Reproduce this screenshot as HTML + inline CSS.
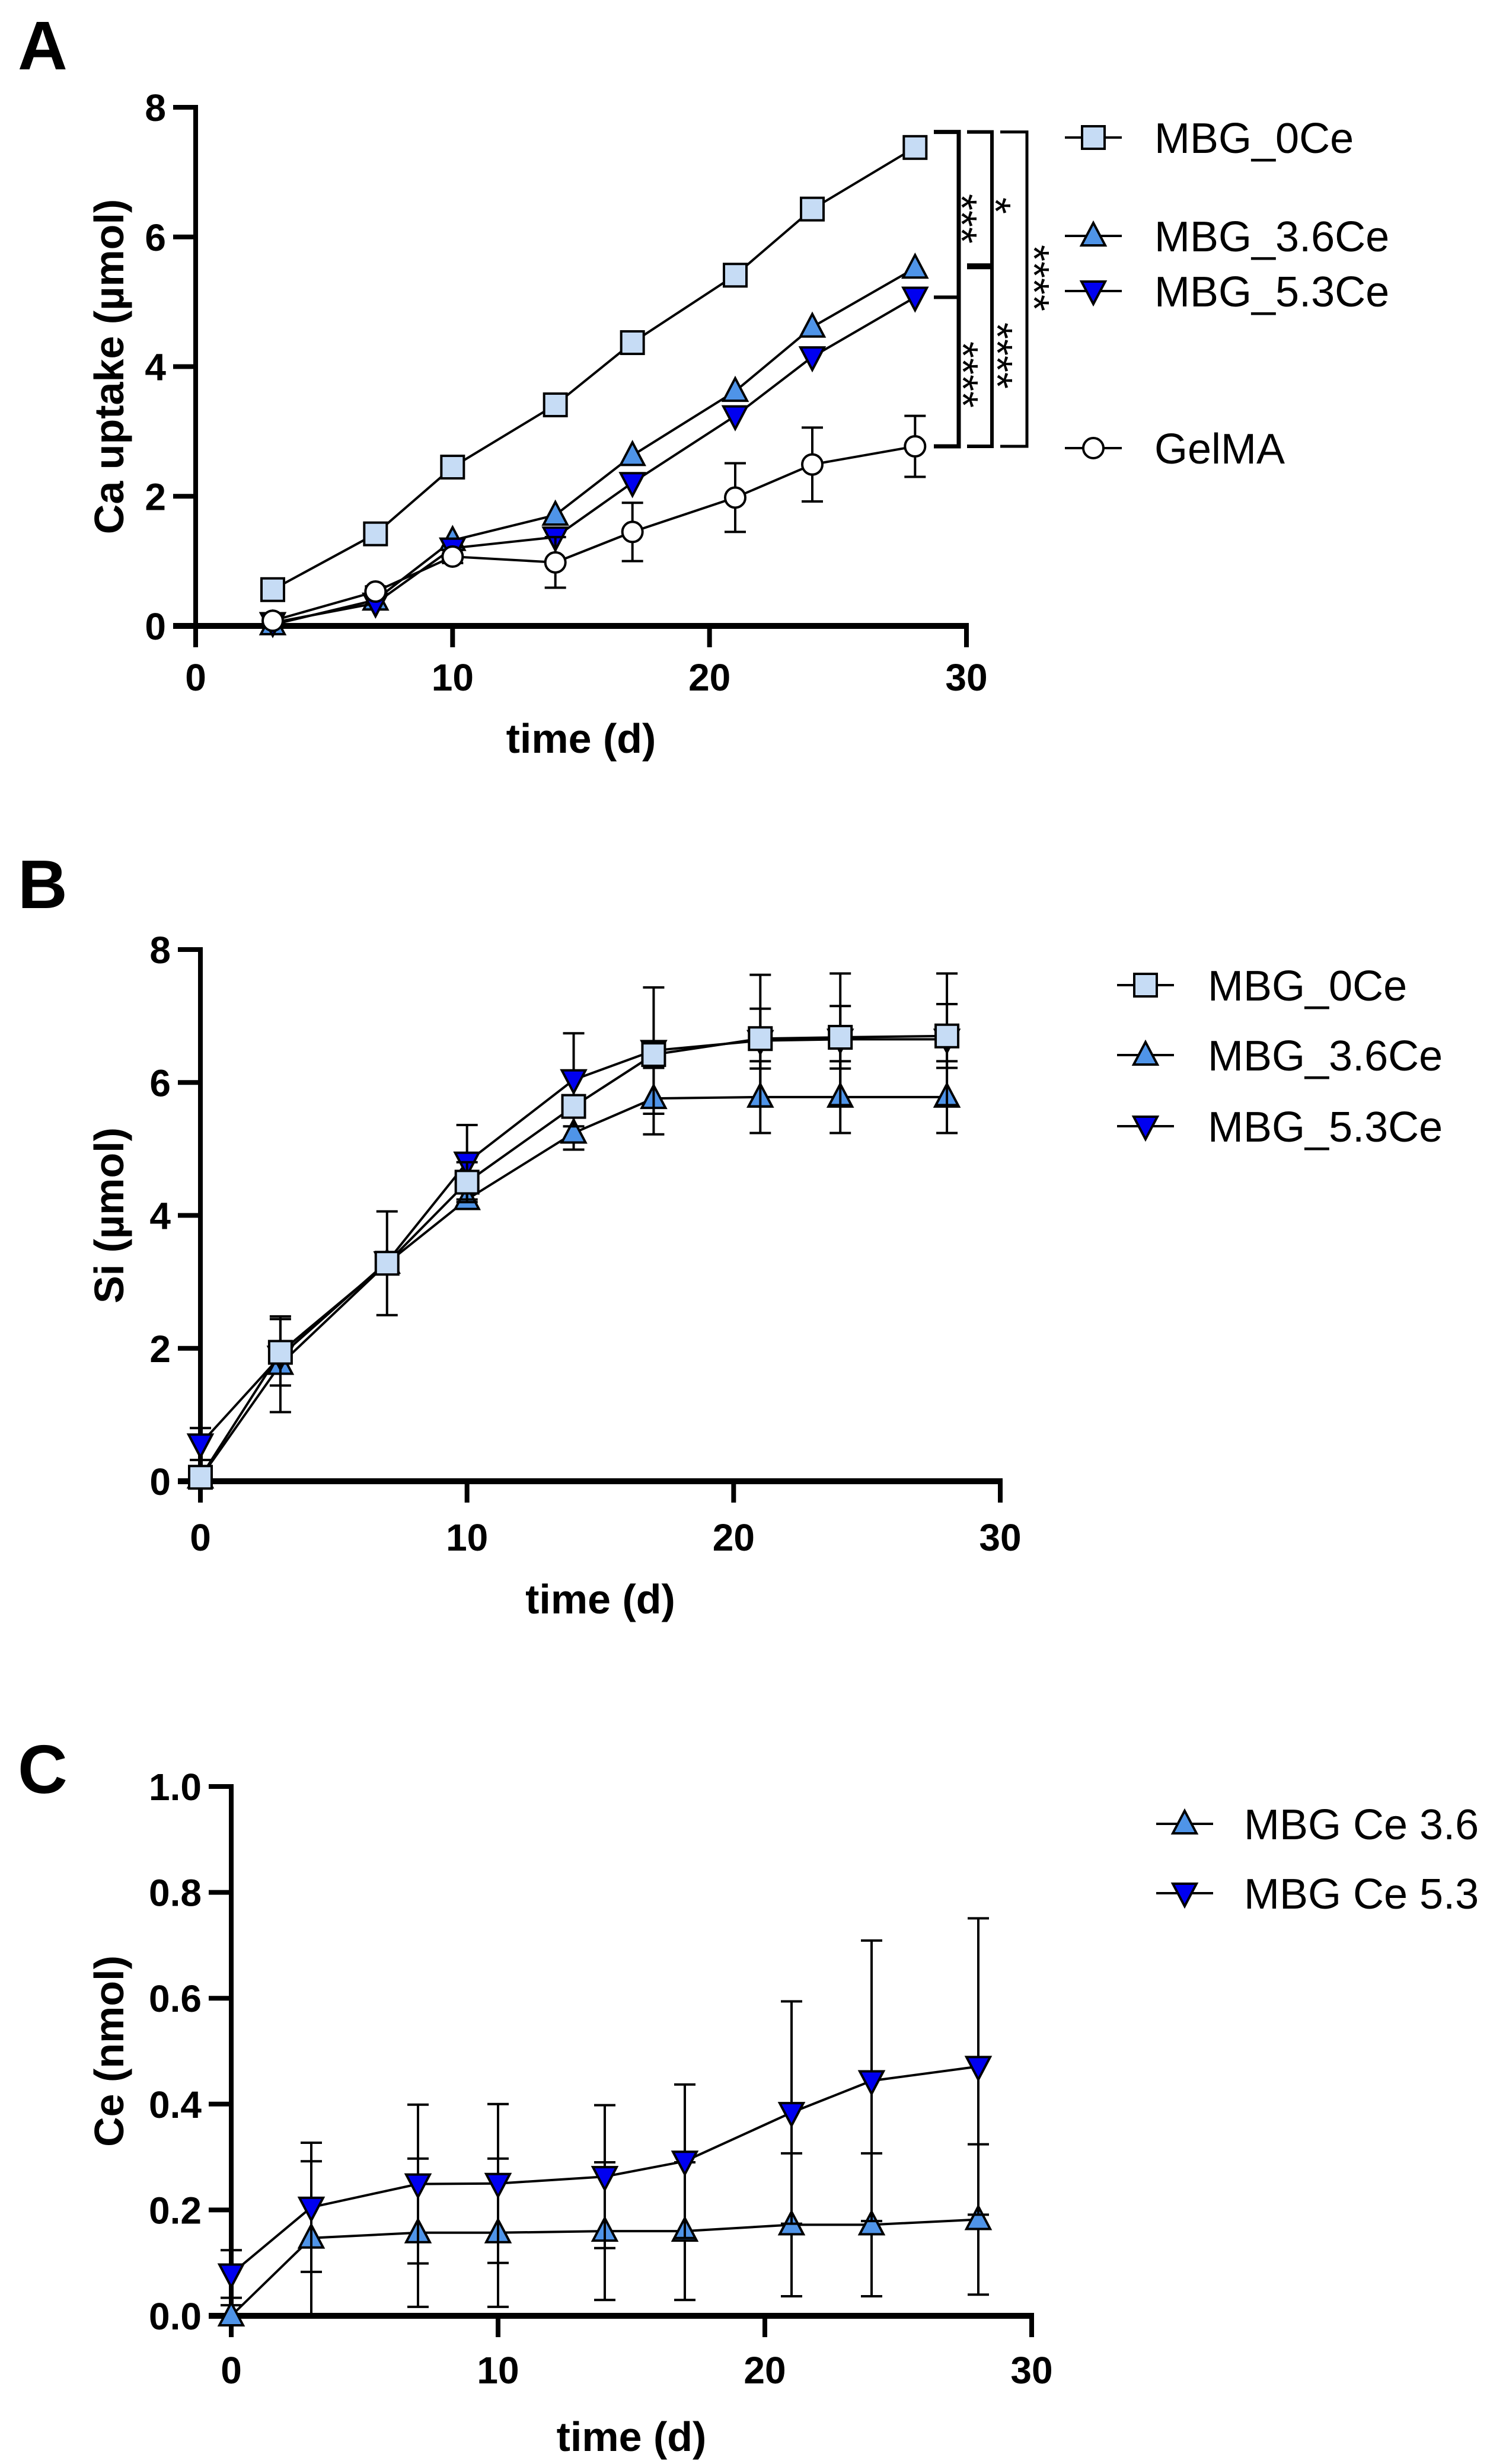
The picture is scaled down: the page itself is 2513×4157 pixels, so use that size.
<!DOCTYPE html>
<html><head><meta charset="utf-8">
<style>
html,body{margin:0;padding:0;background:#fff;}
svg{display:block;}
text{font-family:"Liberation Sans",Arial,sans-serif;fill:#000;}
.tk{font-weight:bold;font-size:64px;}
.ttl{font-weight:bold;font-size:70px;}
.lg{font-size:72px;}
.pl{font-weight:bold;font-size:116px;}
.st{font-size:72px;}
</style></head>
<body>
<svg id="fig" width="2513" height="4157" viewBox="0 0 2513 4157" xmlns="http://www.w3.org/2000/svg">
<text class="pl" x="30" y="117">A</text>
<text class="pl" x="30" y="1532">B</text>
<text class="pl" x="30" y="3025">C</text>
</svg>
<script>
// ---- Panel A data (Ca uptake, µmol) ----
const daysA = [3, 7, 10, 14, 17, 21, 24, 28];
const caMBG0 = [0.56, 1.42, 2.45, 3.41, 4.37, 5.41, 6.43, 7.38];
const caMBG36 = [0.02, 0.40, 1.32, 1.71, 2.63, 3.62, 4.61, 5.52];
const caMBG53 = [0.05, 0.35, 1.20, 1.37, 2.21, 3.24, 4.15, 5.07];
const caGelMA = [0.08, 0.53, 1.07, 0.98, 1.45, 1.98, 2.49, 2.77];
const caGelMAsd = [0.05, 0.08, 0.1, 0.39, 0.45, 0.53, 0.57, 0.47];
const ticksA = [0, 2, 4, 6, 8];
// ---- Panel B data (Si, µmol) ----
const daysB = [0, 3, 7, 10, 14, 17, 21, 24, 28];
const siMBG0 = [0.06, 1.94, 3.28, 4.50, 5.64, 6.42, 6.66, 6.68, 6.70];
const siMBG0sd = [0.0, 0.5, 0.78, 0.3, 0.15, 0.2, 0.45, 0.47, 0.48];
const siMBG36 = [0.05, 1.76, 3.28, 4.24, 5.24, 5.76, 5.78, 5.78, 5.78];
const siMBG36sd = [0.0, 0.72, 0.1, 0.1, 0.25, 0.54, 0.54, 0.54, 0.54];
const siMBG53 = [0.56, 1.88, 3.30, 4.80, 6.04, 6.48, 6.63, 6.65, 6.65];
const siMBG53sd = [0.24, 0.1, 0.1, 0.56, 0.70, 0.95, 0.99, 0.99, 0.99];
const ticksB = [0, 2, 4, 6, 8];
// ---- Panel C data (Ce, nmol) ----
const daysC = [0, 3, 7, 10, 14, 17, 21, 24, 28];
const ceMBG36 = [0.0, 0.147, 0.157, 0.157, 0.160, 0.160, 0.172, 0.172, 0.182];
const ceMBG36sd = [0.02, 0.145, 0.14, 0.14, 0.13, 0.13, 0.135, 0.135, 0.142];
const ceMBG53 = [0.079, 0.205, 0.249, 0.250, 0.263, 0.292, 0.384, 0.444, 0.471];
const ceMBG53sd = [0.045, 0.122, 0.150, 0.150, 0.135, 0.145, 0.21, 0.265, 0.28];
const ticksC = [0.0, 0.2, 0.4, 0.6, 0.8, 1.0];
const ticksX = [0, 10, 20, 30];

const NS = "http://www.w3.org/2000/svg";
const svg = document.getElementById('fig');
const COL = {sq:'#c6dcf5', up:'#4f94e8', dn:'#0000f0', ci:'#ffffff'};

function mk(tag, attrs, parent){
  const e = document.createElementNS(NS, tag);
  for (const k in attrs) e.setAttribute(k, attrs[k]);
  (parent||svg).appendChild(e);
  return e;
}
function marker(g, kind, cx, cy){
  let e;
  if (kind==='sq') e = mk('rect',{x:cx-19,y:cy-19,width:38,height:38,fill:COL.sq,stroke:'#000','stroke-width':4},g);
  else if (kind==='up') e = mk('polygon',{points:`${cx},${cy-22} ${cx+20},${cy+16} ${cx-20},${cy+16}`,fill:COL.up,stroke:'#000','stroke-width':4,'stroke-linejoin':'miter'},g);
  else if (kind==='dn') e = mk('polygon',{points:`${cx-20},${cy-16} ${cx+20},${cy-16} ${cx},${cy+22}`,fill:COL.dn,stroke:'#000','stroke-width':4},g);
  else e = mk('circle',{cx:cx,cy:cy,r:17,fill:COL.ci,stroke:'#000','stroke-width':4},g);
  return e;
}

function panel(cfg){
  const xs = d => cfg.x0 + (d/30)*(cfg.x30-cfg.x0);
  const ys = v => cfg.y0 - (v/cfg.ymax)*(cfg.y0-cfg.ytop);
  const g = mk('g',{});
  
  
  const ax = mk('line',{x1:cfg.x0,y1:cfg.ytop-4,x2:cfg.x0,y2:cfg.y0+36,stroke:'#000','stroke-width':8},g);
  
  
  const bx = mk('line',{x1:cfg.x0-38,y1:cfg.y0,x2:cfg.x30+4,y2:cfg.y0,stroke:'#000','stroke-width':10},g);
  
  
  cfg.yticks.forEach(v=>{
    const y = ys(v);
    mk('line',{x1:cfg.x0-38,y1:y,x2:cfg.x0,y2:y,stroke:'#000','stroke-width':8},g);
    const t = mk('text',{class:'tk',x:cfg.x0-50,y:y+23,'text-anchor':'end'},g);
    t.textContent = cfg.yfmt(v);
    
    
  });
  ticksX.forEach(d=>{
    const x = xs(d);
    mk('line',{x1:x,y1:cfg.y0,x2:x,y2:cfg.y0+36,stroke:'#000','stroke-width':8},g);
    const t = mk('text',{class:'tk',x:x,y:cfg.xlabY,'text-anchor':'middle'},g);
    t.textContent = String(d);
    
    
  });
  const xt = mk('text',{class:'ttl',x:(cfg.x0+cfg.x30)/2,y:cfg.xtitleY,'text-anchor':'middle'},g);
  xt.textContent = 'time (d)';
  
  
  const cy = (cfg.y0+cfg.ytop)/2;
  const yt = mk('text',{class:'ttl',x:0,y:0,'text-anchor':'middle',transform:`translate(${cfg.ytitleX},${cy}) rotate(-90)`},g);
  yt.textContent = cfg.ytitle;
  
  
  cfg.series.forEach(s=>{
    const sg = mk('g',{},g);
    
    
    if (s.sd){
      s.vals.forEach((v,i)=>{
        const x = xs(cfg.days[i]);
        const hi = ys(v+s.sd[i]), lo = ys(Math.max(0,v-s.sd[i]));
        if (s.sd[i] <= 0) return;
        mk('line',{x1:x,y1:hi,x2:x,y2:lo,stroke:'#000','stroke-width':4},sg);
        mk('line',{x1:x-18,y1:hi,x2:x+18,y2:hi,stroke:'#000','stroke-width':4},sg);
        mk('line',{x1:x-18,y1:lo,x2:x+18,y2:lo,stroke:'#000','stroke-width':4},sg);
      });
    }
    const pts = s.vals.map((v,i)=>xs(cfg.days[i])+','+ys(v)).join(' ');
    const pl = mk('polyline',{points:pts,fill:'none',stroke:'#000','stroke-width':4},sg);
    
    
    s.vals.forEach((v,i)=>{
      const m = marker(sg, s.kind, xs(cfg.days[i]), ys(v));
      
      
    });
  });
  cfg.legend.forEach(L=>{
    const lg = mk('g',{},g);
    
    
    mk('line',{x1:L.sx-48,y1:L.y,x2:L.sx+48,y2:L.y,stroke:'#000','stroke-width':4},lg);
    marker(lg, L.kind, L.sx, L.y);
    const t = mk('text',{class:'lg',x:L.tx,y:L.y+26},lg);
    t.textContent = L.label;
  });
  return {xs, ys, g};
}

const A = panel({name:'chart-a-ca-uptake', x0:330, x30:1630, y0:1056, ytop:181, ymax:8,
  yticks:ticksA, yfmt:v=>String(v), xlabY:1165, xtitleY:1270, ytitleX:208, ytitle:'Ca uptake (µmol)',
  days:daysA,
  series:[
    {key:'mbg-0ce', kind:'sq', vals:caMBG0},
    {key:'mbg-3-6ce', kind:'up', vals:caMBG36},
    {key:'mbg-5-3ce', kind:'dn', vals:caMBG53},
    {key:'gelma', kind:'ci', vals:caGelMA, sd:caGelMAsd}
  ],
  legend:[
    {kind:'sq', sx:1844, tx:1947, y:232, label:'MBG_0Ce'},
    {kind:'up', sx:1844, tx:1947, y:398, label:'MBG_3.6Ce'},
    {kind:'dn', sx:1844, tx:1947, y:491, label:'MBG_5.3Ce'},
    {kind:'ci', sx:1844, tx:1947, y:756, label:'GelMA'}
  ]});

(function(){
  const g = mk('g',{});
  
  
  const top = A.ys(7.62), bot = A.ys(caGelMA[7]);
  const m53 = A.ys(caMBG53[7]), m36 = A.ys(caMBG36[7]);
  function br(x, x1, w){
    mk('polyline',{points:`${x1},${top} ${x},${top} ${x},${bot} ${x1},${bot}`,fill:'none',stroke:'#000','stroke-width':w},g);
  }
  br(1617,1575,7);
  mk('line',{x1:1575,y1:m53,x2:1617,y2:m53,stroke:'#000','stroke-width':6},g);
  br(1673,1631,6);
  mk('line',{x1:1631,y1:m36-3,x2:1673,y2:m36-3,stroke:'#000','stroke-width':10},g);
  br(1732,1687,5);
  const off = 40;
  const stars = [['***',1637,369],['*',1694,347],['****',1639,632],['****',1697,600],['****',1759,469]];
  stars.forEach(s=>{
    const t = mk('text',{class:'st',x:0,y:0,'text-anchor':'middle',transform:`translate(${s[1]-off},${s[2]}) rotate(90)`},g);
    t.textContent = s[0];
    
    
  });
})();

panel({name:'chart-b-si', x0:338, x30:1687, y0:2499, ytop:1602, ymax:8,
  yticks:ticksB, yfmt:v=>String(v), xlabY:2616, xtitleY:2722, ytitleX:208, ytitle:'Si (µmol)',
  days:daysB,
  series:[
    {key:'mbg-3-6ce', kind:'up', vals:siMBG36, sd:siMBG36sd},
    {key:'mbg-5-3ce', kind:'dn', vals:siMBG53, sd:siMBG53sd},
    {key:'mbg-0ce', kind:'sq', vals:siMBG0, sd:siMBG0sd}
  ],
  legend:[
    {kind:'sq', sx:1932, tx:2037, y:1662, label:'MBG_0Ce'},
    {kind:'up', sx:1932, tx:2037, y:1780, label:'MBG_3.6Ce'},
    {kind:'dn', sx:1932, tx:2037, y:1900, label:'MBG_5.3Ce'}
  ]});

panel({name:'chart-c-ce', x0:390, x30:1740, y0:3907, ytop:3014, ymax:1.0,
  yticks:ticksC, yfmt:v=>v.toFixed(1), xlabY:4021, xtitleY:4135, ytitleX:208, ytitle:'Ce (nmol)',
  days:daysC,
  series:[
    {key:'mbg-ce-3-6', kind:'up', vals:ceMBG36, sd:ceMBG36sd},
    {key:'mbg-ce-5-3', kind:'dn', vals:ceMBG53, sd:ceMBG53sd}
  ],
  legend:[
    {kind:'up', sx:1998, tx:2098, y:3077, label:'MBG Ce 3.6'},
    {kind:'dn', sx:1998, tx:2098, y:3194, label:'MBG Ce 5.3'}
  ]});
</script>
</body></html>
